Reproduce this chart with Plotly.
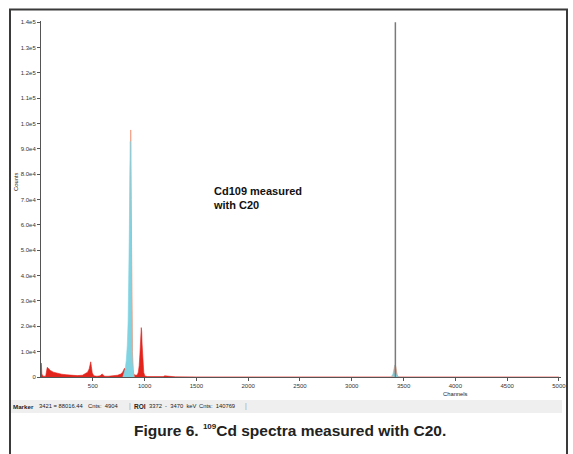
import plotly.graph_objects as go

# ---------------- data ----------------
red_channels = [0, 2, 4, 8, 20, 45, 60, 70, 90, 120, 160, 200, 250, 300, 350, 400,
                430, 450, 465, 473, 480, 486, 495, 510, 540, 570, 582, 590, 600, 615,
                650, 700, 740, 770, 790, 800, 808, 815, 825, 840, 860, 880, 890, 900,
                915, 930, 940, 948, 955, 960, 965, 968, 972, 976, 980, 985, 992,
                1000, 1010, 1030, 1100, 1180, 1195, 1210, 1230, 1300, 1500, 2000,
                3000, 3370, 3475, 4000, 5000]
red_counts = [0, 5500, 4800, 1200, 300, 300, 3800, 3500, 2600, 1900, 1400, 1100, 850,
              650, 550, 700, 1300, 1900, 3200, 5200, 6000, 4200, 1600, 450, 300, 450,
              1100, 1200, 800, 300, 300, 450, 700, 1200, 2000, 3000, 3500, 3000, 3500,
              4000, 4000, 3000, 1500, 900, 700, 800, 2000, 4500, 9000, 13000, 17000,
              19500, 18000, 13000, 8500, 4500, 1800, 700, 300, 150, 80, 150, 450, 400,
              100, 50, 30, 20, 20, 20, 20, 10, 0]

salmon_channels = [840, 850, 856, 861, 864, 866, 868, 871, 874, 878, 883, 890, 900,
                   3395, 3405, 3414, 3421, 3428, 3436, 3448]
salmon_counts = [0, 8000, 25000, 55000, 85000, 97500, 90000, 70000, 45000, 25000,
                 10000, 3000, 0,
                 0, 1200, 3500, 4904, 3200, 1000, 0]

cyan_channels = [790, 803, 813, 823, 833, 841, 848, 853, 857, 860, 862, 864, 867,
                 870, 873, 877, 882, 888, 897,
                 3380, 3398, 3408, 3416, 3422, 3430, 3440, 3455]
cyan_counts = [0, 1500, 3200, 6500, 12500, 22000, 36000, 58000, 80000, 92500, 93000,
               88000, 66000, 42000, 25000, 12000, 5500, 1500, 0,
               0, 1200, 3300, 4700, 4200, 2000, 600, 0]

y_tick_values = [0, 10000, 20000, 30000, 40000, 50000, 60000, 70000, 80000, 90000,
                 100000, 110000, 120000, 130000, 140000]
y_tick_labels = ["0", "1.0e4", "2.0e4", "3.0e4", "4.0e4", "5.0e4", "6.0e4", "7.0e4",
                 "8.0e4", "9.0e4", "1.0e5", "1.1e5", "1.2e5", "1.3e5", "1.4e5"]
x_tick_values = [500, 1000, 1500, 2000, 2500, 3000, 3500, 4000, 4500, 5000]
x_tick_labels = ["500", "1000", "1500", "2000", "2500", "3000", "3500", "4000",
                 "4500", "5000"]

marker_channel = 3421
marker_top = 140000

# ---------------- layout geometry ----------------
W, H = 573, 454
PL, PR, PT, PB = 41, 561, 21, 377  # plot area in pixels


def px(x):
    return (x - PL) / (PR - PL)


def py(y):
    return (PB - y) / (PB - PT)


RED = "#e3241d"
SALMON = "#f1987c"
CYAN = "#80d4e2"
FONT = "Liberation Sans, Arial, sans-serif"

fig = go.Figure()
fig.add_trace(go.Scatter(x=red_channels, y=red_counts, mode="lines", fill="tozeroy",
                         line=dict(color=RED, width=0.6), fillcolor=RED,
                         hoverinfo="skip", showlegend=False))
fig.add_trace(go.Scatter(x=salmon_channels[:13], y=salmon_counts[:13], mode="lines",
                         fill="tozeroy", line=dict(color=SALMON, width=0.8),
                         fillcolor=SALMON, showlegend=False))
fig.add_trace(go.Scatter(x=cyan_channels[:19], y=cyan_counts[:19], mode="lines",
                         fill="tozeroy", line=dict(color=CYAN, width=0.6),
                         fillcolor=CYAN, showlegend=False))
fig.add_trace(go.Scatter(x=cyan_channels[19:], y=cyan_counts[19:], mode="lines",
                         fill="tozeroy", line=dict(color=CYAN, width=0.6),
                         fillcolor=CYAN, showlegend=False))
fig.add_trace(go.Scatter(x=salmon_channels[13:], y=salmon_counts[13:], mode="lines",
                         line=dict(color=SALMON, width=0.8), showlegend=False))
# marker line
fig.add_trace(go.Scatter(x=[marker_channel, marker_channel], y=[0, marker_top],
                         mode="lines", line=dict(color="#7a7a7a", width=1.5),
                         showlegend=False))

shapes = [
    # outer frame
    dict(type="rect", xref="paper", yref="paper", x0=px(10), x1=px(567),
         y0=py(470), y1=py(9.5), line=dict(color="#3a3a3a", width=2), layer="below"),
    # status bar
    dict(type="rect", xref="paper", yref="paper", x0=px(11), x1=px(562),
         y0=py(413), y1=py(400), line=dict(width=0), fillcolor="#efefef",
         layer="below"),
]

small = dict(family=FONT, size=5.8, color="#222")
bar = dict(family=FONT, size=7, color="#999")


def ann(text, x, y, font, xanchor="left", yanchor="middle", **kw):
    return dict(text=text, xref="paper", yref="paper", x=px(x), y=py(y),
                xanchor=xanchor, yanchor=yanchor, showarrow=False, font=font, **kw)


annotations = [
    ann("<b>Cd109 measured<br>with C20</b>", 211, 183,
        dict(family=FONT, size=11, color="#111"), yanchor="top", align="left"),
    ann("Counts", 16, 182, small, xanchor="center", textangle=-90),
    ann("Channels", 455, 394, small, xanchor="center"),
    ann("<b>Marker</b>", 11, 406, dict(small, size=6.2)),
    ann("3421 = 88016.44", 37, 406, small),
    ann("Cnts:  4904", 86, 406, small),
    ann("|", 127, 406, bar),
    ann("<b>ROI</b>", 132, 406, dict(small, size=6.5)),
    ann("3372  -  3470  keV", 147, 406, small),
    ann("Cnts:  140769", 197, 406, small),
    ann("|", 243, 406, bar),
    ann("<b>Figure 6. <sup><span style='font-size:8px'>109</span></sup>"
        "Cd spectra measured with C20.</b>", 290, 430,
        dict(family="Liberation Sans Narrow, Arial Narrow, Liberation Sans, Arial",
             size=15.5, color="#222"), xanchor="center"),
]

tickfont = dict(family=FONT, size=6, color="#333")
fig.update_layout(
    width=W, height=H,
    margin=dict(l=PL, r=W - PR, t=PT, b=H - PB, pad=0, autoexpand=False),
    paper_bgcolor="white", plot_bgcolor="white",
    shapes=shapes, annotations=annotations,
    showlegend=False,
    xaxis=dict(range=[0, 5020], tickvals=x_tick_values, ticktext=x_tick_labels,
               showgrid=False, zeroline=False, showline=True, linecolor="#555",
               linewidth=1, ticks="outside", ticklen=3, tickcolor="#555",
               tickfont=tickfont, fixedrange=True, automargin=False),
    yaxis=dict(range=[0, 140500], tickvals=y_tick_values, ticktext=y_tick_labels,
               showgrid=False, zeroline=False, showline=True, linecolor="#555",
               linewidth=1, ticks="outside", ticklen=3, tickcolor="#555",
               tickfont=tickfont, fixedrange=True, automargin=False),
)

fig.write_html("out.html", config={"displayModeBar": False},
               post_script="document.body.style.margin='0px';"
                           "document.body.style.overflow='hidden';")
